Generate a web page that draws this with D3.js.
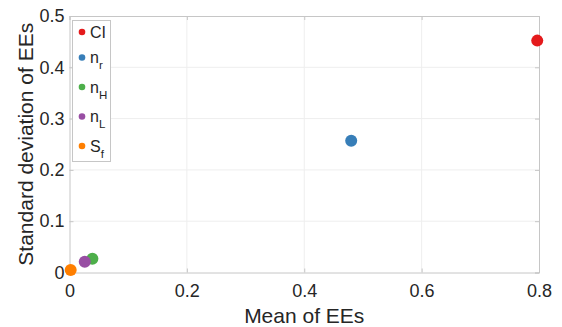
<!DOCTYPE html>
<html lang="en">
<head>
<meta charset="UTF-8">
<title>Mean vs standard deviation of EEs</title>
<style>
    html, body { margin: 0; padding: 0; background: #fff; }
    svg { display: block; font-family: 'Liberation Sans', Arial, sans-serif; }
</style>
</head>
<body>
<div id="chart"></div>
<script src="https://d3js.org/d3.v7.min.js"></script>
<script>
    // data
    const names = ["CI", "n_r", "n_H", "n_L", "S_f"];
    const meanEE = [0.797, 0.480, 0.039, 0.026, 0.002];
    const stdEE = [0.452, 0.257, 0.027, 0.021, 0.005];
    const colors = ["#e41a1c", "#377eb8", "#4daf4a", "#984ea3", "#ff7f00"];
    const xTicks = [0, 0.2, 0.4, 0.6, 0.8];
    const yTicks = [0, 0.1, 0.2, 0.3, 0.4, 0.5];

    const W = 562, H = 327;
    const margin = {top: 16, left: 69.5, right: 23, bottom: 54.5};
    const width = W - margin.left - margin.right;
    const height = H - margin.top - margin.bottom;
    const textColor = "#262626";
    const axisColor = "#c6c6c6";

    const svg = d3.select("#chart").append("svg")
        .attr("width", W).attr("height", H);

    const g = svg.append("g")
        .attr("transform", `translate(${margin.left},${margin.top})`);

    const x = d3.scaleLinear().domain([0, 0.8]).range([0, width]);
    const y = d3.scaleLinear().domain([0, 0.5]).range([height, 0]);

    // grid
    g.append("g").selectAll("line").data(xTicks.slice(1, -1)).enter()
        .append("line")
        .attr("x1", d => x(d)).attr("x2", d => x(d))
        .attr("y1", 0).attr("y2", height)
        .style("stroke", "#eeeeee").style("stroke-width", 1);
    g.append("g").selectAll("line").data(yTicks.slice(1, -1)).enter()
        .append("line")
        .attr("y1", d => y(d)).attr("y2", d => y(d))
        .attr("x1", 0).attr("x2", width)
        .style("stroke", "#eeeeee").style("stroke-width", 1);

    // axes (ticks inward, box on all four sides)
    const fmt = d => d === 0 ? "0" : d3.format(".1f")(d);
    const xAxis = g.append("g")
        .attr("transform", `translate(0,${height})`)
        .call(d3.axisBottom(x).tickValues(xTicks).tickSize(-4).tickPadding(12).tickFormat(fmt));
    const xAxisTop = g.append("g")
        .call(d3.axisTop(x).tickValues(xTicks).tickSize(-4).tickFormat(""));
    const yAxis = g.append("g")
        .call(d3.axisLeft(y).tickValues(yTicks).tickSize(-4).tickPadding(5).tickFormat(fmt));
    const yAxisRight = g.append("g")
        .attr("transform", `translate(${width},0)`)
        .call(d3.axisRight(y).tickValues(yTicks).tickSize(-4).tickFormat(""));

    [xAxis, xAxisTop, yAxis, yAxisRight].forEach(a => {
        a.select(".domain").style("stroke", axisColor);
        a.selectAll(".tick line").style("stroke", axisColor);
        a.selectAll("text").style("font-size", "18px").style("fill", textColor)
            .style("font-family", "'Liberation Sans', Arial, sans-serif");
    });

    // points
    g.selectAll("circle.dot").data(names).enter()
        .append("circle")
        .attr("class", "dot")
        .attr("cx", (d, i) => x(meanEE[i]))
        .attr("cy", (d, i) => y(stdEE[i]))
        .attr("r", 6)
        .style("fill", (d, i) => colors[i]);

    // axis titles
    svg.append("text")
        .attr("x", margin.left + width / 2).attr("y", 323)
        .attr("text-anchor", "middle")
        .style("font-size", "21px").style("fill", textColor)
        .text("Mean of EEs");
    svg.append("text")
        .attr("transform", `translate(32.5,${margin.top + height / 2}) rotate(-90)`)
        .attr("text-anchor", "middle")
        .style("font-size", "21px").style("fill", textColor)
        .text("Standard deviation of EEs");

    // legend: first row sits a bit closer (no subscript)
    const rowY = names.map((d, i) => i === 0 ? 11.5 : 37 + (i - 1) * 29.5);

    const legend = svg.append("g").attr("transform", "translate(72.5,20.5)");
    legend.append("rect")
        .attr("width", 38).attr("height", 141)
        .style("fill", "#fff").style("stroke", axisColor).style("stroke-width", 1);
    const item = legend.selectAll("g.item").data(names).enter()
        .append("g")
        .attr("class", "item")
        .attr("transform", (d, i) => `translate(0,${rowY[i]})`);
    item.append("circle")
        .attr("cx", 9.5).attr("cy", 0).attr("r", 3.3)
        .style("fill", (d, i) => colors[i]);
    const label = item.append("text")
        .attr("x", 17.5).attr("y", 5.5)
        .style("font-size", "16px").style("fill", textColor);
    label.append("tspan").text(d => d.split("_")[0]);
    label.filter(d => d.includes("_")).append("tspan")
        .attr("dy", 6).style("font-size", "11.5px")
        .text(d => d.split("_")[1]);
</script>
</body>
</html>
